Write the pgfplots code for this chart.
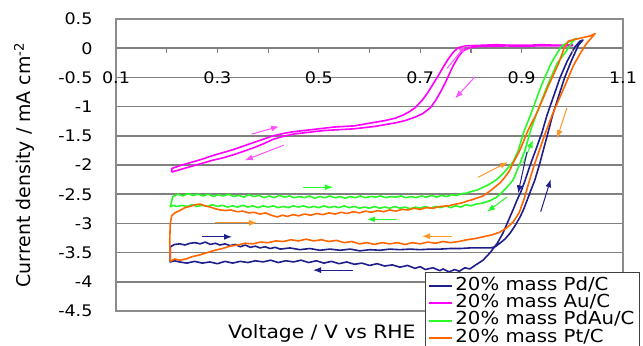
\documentclass[border=0pt]{standalone}
\usepackage{pgfplots}
\pgfplotsset{compat=1.18}
\usepackage{fontspec}
\setmainfont{DejaVu Sans}[FakeStretch=1.1]
\newfontfamily\ylabfont{DejaVu Sans}
\usetikzlibrary{arrows.meta}
\definecolor{pdc}{RGB}{30,30,140}
\definecolor{auc}{RGB}{255,0,255}
\definecolor{pdauc}{RGB}{40,250,40}
\definecolor{ptc}{RGB}{255,102,0}
\definecolor{auarr}{RGB}{255,80,255}
\definecolor{ptarr}{RGB}{255,150,40}
\definecolor{gridc}{RGB}{128,128,128}
\definecolor{framec}{RGB}{140,140,140}
\tikzset{arr/.style={-{Latex[length=8bp,width=6bp]}, line width=1bp}}
\begin{document}
\begin{tikzpicture}
\useasboundingbox (0,0) rectangle (643bp,346bp);
\clip (0,0) rectangle (643bp,346bp);
\begin{axis}[
  at={(116bp,35bp)}, anchor=south west,
  scale only axis, width=507bp, height=292bp,
  xmin=0.1, xmax=1.1, ymin=-4.5, ymax=0.5,
  axis line style={draw=framec, line width=1.4bp},
  xtick={0.1,0.3,0.5,0.7,0.9,1.1},
  ytick={-4.5,-4,-3.5,-3,-2.5,-2,-1.5,-1,-0.5,0,0.5},
  ymajorgrids,
  grid style={gridc, line width=1.6bp},
  major tick length=0pt, minor tick length=0pt,
  tick label style={font=\fontsize{16}{18}\selectfont},
  /pgf/number format/assume math mode=true,
  xticklabel style={anchor=center, yshift=233.5bp},
  yticklabel style={anchor=east, xshift=-20bp},
  xlabel={Voltage / V vs RHE},
  ylabel={Current density / mA cm\textsuperscript{-2}},
  every axis x label/.style={at={(rel axis cs:0.406,-0.0753)}, anchor=center, font=\fontsize{18.5}{22}\selectfont},
  every axis y label/.style={at={(rel axis cs:-0.1815,0.5)}, anchor=center, rotate=90, font=\ylabfont\fontsize{19}{22}\selectfont},
  legend style={at={(0.6095,0.1336)}, anchor=north west, draw=black!75, line width=0.8bp, fill=white,
    inner xsep=2.5bp, inner ysep=5bp, font=\fontsize{18}{18}\selectfont, cells={anchor=west}, row sep=0pt,
    nodes={inner xsep=2.5bp, inner ysep=0pt, text height=13bp, text depth=4.3bp}},
  legend image code/.code={\draw[#1, line width=2bp] (0bp,0bp) -- (23bp,0bp);},
  every axis plot/.append style={line width=1.6bp, line join=round},
]
% 20% mass Pd/C
\addplot[pdc] coordinates {
(0.207,-3.40)(0.216,-3.36)(0.226,-3.35)(0.236,-3.37)(0.246,-3.34)(0.256,-3.33)(0.266,-3.35)(0.276,-3.32)
(0.286,-3.36)(0.296,-3.34)(0.305,-3.37)(0.315,-3.35)(0.325,-3.38)(0.335,-3.36)(0.345,-3.40)(0.355,-3.37)
(0.365,-3.41)(0.375,-3.39)(0.384,-3.42)(0.394,-3.40)(0.404,-3.43)(0.414,-3.41)(0.424,-3.44)(0.443,-3.42)
(0.463,-3.45)(0.482,-3.43)(0.502,-3.46)(0.522,-3.44)(0.542,-3.46)(0.562,-3.44)(0.581,-3.47)(0.601,-3.45)
(0.621,-3.46)(0.640,-3.44)(0.660,-3.45)(0.680,-3.44)(0.700,-3.45)(0.720,-3.44)(0.740,-3.44)(0.759,-3.43)
(0.779,-3.43)(0.798,-3.42)(0.818,-3.42)(0.838,-3.42)(0.848,-3.40)(0.857,-3.34)(0.867,-3.27)(0.877,-3.17)
(0.887,-3.04)(0.897,-2.89)(0.904,-2.76)(0.911,-2.60)(0.918,-2.44)(0.926,-2.26)(0.935,-2.00)(0.943,-1.74)
(0.952,-1.45)(0.961,-1.15)(0.972,-0.85)(0.985,-0.50)(0.998,-0.22)(1.012,0.05)(1.021,0.14)
(1.015,0.12)(1.005,0.02)(0.990,-0.22)(0.976,-0.50)(0.962,-0.85)(0.950,-1.15)(0.940,-1.45)(0.928,-1.74)
(0.917,-2.00)(0.907,-2.26)(0.899,-2.45)(0.891,-2.60)(0.884,-2.75)(0.877,-2.89)(0.870,-3.03)(0.863,-3.17)
(0.852,-3.34)(0.838,-3.50)(0.824,-3.63)(0.808,-3.72)(0.798,-3.78)(0.788,-3.76)(0.777,-3.82)(0.768,-3.79)
(0.757,-3.83)(0.745,-3.78)(0.739,-3.81)(0.725,-3.76)(0.710,-3.79)(0.700,-3.74)(0.690,-3.77)(0.675,-3.72)
(0.660,-3.75)(0.645,-3.71)(0.630,-3.73)(0.615,-3.69)(0.600,-3.72)(0.585,-3.68)(0.570,-3.70)(0.555,-3.66)
(0.540,-3.69)(0.525,-3.65)(0.510,-3.68)(0.495,-3.64)(0.480,-3.67)(0.465,-3.63)(0.450,-3.66)(0.435,-3.64)
(0.420,-3.67)(0.405,-3.63)(0.390,-3.66)(0.375,-3.64)(0.360,-3.67)(0.345,-3.65)(0.330,-3.68)(0.315,-3.65)
(0.300,-3.69)(0.285,-3.66)(0.270,-3.68)(0.255,-3.65)(0.240,-3.68)(0.225,-3.66)(0.215,-3.64)(0.207,-3.66)
(0.207,-3.40)
};
\addlegendentry{20\% mass Pd/C}
% 20% mass Au/C
\addplot[auc] coordinates {
(0.210,-2.12)(0.210,-2.06)(0.230,-2.00)(0.250,-1.95)(0.270,-1.90)(0.290,-1.84)(0.310,-1.79)(0.330,-1.74)
(0.350,-1.68)(0.370,-1.62)(0.390,-1.56)(0.410,-1.50)(0.430,-1.46)(0.450,-1.43)(0.470,-1.41)(0.490,-1.39)
(0.510,-1.37)(0.530,-1.35)(0.550,-1.34)(0.570,-1.33)(0.590,-1.30)(0.610,-1.27)(0.630,-1.24)(0.650,-1.20)
(0.665,-1.15)(0.678,-1.09)(0.690,-1.02)(0.705,-0.88)(0.715,-0.76)(0.725,-0.62)(0.735,-0.48)(0.745,-0.33)
(0.755,-0.19)(0.765,-0.07)(0.775,0.01)(0.790,0.04)(0.820,0.05)(0.850,0.06)(0.880,0.05)(0.910,0.05)
(0.940,0.06)(0.970,0.05)(1.000,0.06)
(1.000,0.04)(0.960,0.04)(0.930,0.04)(0.900,0.03)(0.870,0.04)(0.840,0.03)(0.815,0.03)(0.800,0.01)
(0.785,-0.04)(0.775,-0.15)(0.765,-0.30)(0.757,-0.45)(0.749,-0.60)(0.740,-0.75)(0.730,-0.90)(0.720,-1.02)
(0.705,-1.12)(0.690,-1.18)(0.670,-1.24)(0.650,-1.28)(0.630,-1.31)(0.610,-1.34)(0.590,-1.36)(0.570,-1.38)
(0.550,-1.39)(0.530,-1.40)(0.510,-1.41)(0.490,-1.43)(0.470,-1.45)(0.450,-1.47)(0.430,-1.51)(0.410,-1.56)
(0.390,-1.64)(0.370,-1.71)(0.350,-1.77)(0.330,-1.83)(0.310,-1.88)(0.290,-1.92)(0.270,-1.97)(0.250,-2.02)
(0.230,-2.07)(0.210,-2.12)
};
\addlegendentry{20\% mass Au/C}
% 20% mass PdAu/C
\addplot[pdauc] coordinates {
(0.207,-2.72)(0.212,-2.54)(0.222,-2.50)(0.232,-2.53)(0.242,-2.49)(0.252,-2.52)(0.262,-2.50)(0.272,-2.53)
(0.282,-2.50)(0.292,-2.54)(0.302,-2.51)(0.312,-2.53)(0.322,-2.50)(0.332,-2.54)(0.342,-2.52)(0.352,-2.55)
(0.362,-2.51)(0.372,-2.54)(0.382,-2.52)(0.392,-2.56)(0.402,-2.53)(0.412,-2.56)(0.422,-2.52)(0.432,-2.55)
(0.442,-2.53)(0.452,-2.56)(0.462,-2.54)(0.472,-2.56)(0.482,-2.53)(0.492,-2.57)(0.502,-2.54)(0.512,-2.56)
(0.522,-2.53)(0.532,-2.56)(0.542,-2.54)(0.552,-2.57)(0.562,-2.54)(0.572,-2.56)(0.582,-2.53)(0.592,-2.56)
(0.602,-2.54)(0.612,-2.55)(0.622,-2.53)(0.632,-2.56)(0.642,-2.54)(0.652,-2.55)(0.662,-2.53)(0.672,-2.56)
(0.682,-2.54)(0.692,-2.56)(0.702,-2.53)(0.712,-2.55)(0.722,-2.52)(0.732,-2.55)(0.742,-2.52)(0.752,-2.54)
(0.762,-2.51)(0.772,-2.52)(0.782,-2.49)(0.792,-2.48)(0.802,-2.45)(0.812,-2.43)(0.822,-2.39)(0.832,-2.35)
(0.842,-2.30)(0.852,-2.24)(0.862,-2.16)(0.872,-2.06)(0.883,-1.95)(0.893,-1.76)(0.905,-1.42)(0.919,-1.11)
(0.938,-0.66)(0.958,-0.26)(0.978,0.03)(0.995,0.12)(1.009,0.17)
(1.001,0.12)(0.984,-0.10)(0.970,-0.26)(0.950,-0.66)(0.930,-1.11)(0.918,-1.40)(0.907,-1.74)(0.897,-1.97)
(0.883,-2.26)(0.867,-2.42)(0.851,-2.55)(0.838,-2.61)(0.824,-2.65)(0.810,-2.67)(0.800,-2.70)(0.790,-2.68)
(0.780,-2.72)(0.770,-2.70)(0.760,-2.73)(0.750,-2.70)(0.740,-2.73)(0.730,-2.71)(0.720,-2.74)(0.710,-2.71)
(0.700,-2.74)(0.690,-2.72)(0.680,-2.75)(0.670,-2.72)(0.660,-2.74)(0.650,-2.71)(0.640,-2.74)(0.630,-2.72)
(0.620,-2.74)(0.610,-2.71)(0.600,-2.74)(0.590,-2.72)(0.580,-2.74)(0.570,-2.71)(0.560,-2.73)(0.550,-2.70)
(0.540,-2.73)(0.530,-2.71)(0.520,-2.73)(0.510,-2.70)(0.500,-2.73)(0.490,-2.71)(0.480,-2.73)(0.470,-2.70)
(0.460,-2.72)(0.450,-2.70)(0.440,-2.73)(0.430,-2.71)(0.420,-2.73)(0.410,-2.70)(0.400,-2.72)(0.390,-2.70)
(0.380,-2.73)(0.370,-2.70)(0.360,-2.72)(0.350,-2.69)(0.340,-2.72)(0.330,-2.70)(0.320,-2.72)(0.310,-2.69)
(0.300,-2.71)(0.290,-2.68)(0.280,-2.71)(0.270,-2.69)(0.260,-2.71)(0.250,-2.68)(0.240,-2.71)(0.230,-2.69)
(0.220,-2.71)(0.212,-2.69)(0.207,-2.72)
};
\addlegendentry{20\% mass PdAu/C}
% 20% mass Pt/C
\addplot[ptc] coordinates {
(0.207,-3.65)(0.206,-3.30)(0.207,-3.00)(0.210,-2.87)(0.216,-2.82)(0.226,-2.78)(0.236,-2.73)(0.246,-2.71)
(0.256,-2.68)(0.266,-2.67)(0.276,-2.70)(0.286,-2.72)(0.296,-2.75)(0.306,-2.77)(0.316,-2.78)(0.326,-2.77)
(0.339,-2.80)(0.350,-2.79)(0.362,-2.82)(0.372,-2.81)(0.384,-2.84)(0.395,-2.82)(0.406,-2.86)(0.418,-2.89)
(0.428,-2.86)(0.438,-2.88)(0.449,-2.85)(0.460,-2.87)(0.472,-2.84)(0.484,-2.86)(0.496,-2.83)(0.508,-2.85)
(0.520,-2.82)(0.532,-2.84)(0.544,-2.81)(0.556,-2.83)(0.568,-2.80)(0.580,-2.82)(0.592,-2.79)(0.604,-2.81)
(0.616,-2.78)(0.628,-2.80)(0.640,-2.77)(0.652,-2.79)(0.664,-2.76)(0.676,-2.77)(0.688,-2.74)(0.700,-2.76)
(0.712,-2.73)(0.725,-2.74)(0.740,-2.71)(0.755,-2.70)(0.770,-2.67)(0.782,-2.65)(0.792,-2.62)(0.804,-2.59)
(0.814,-2.56)(0.824,-2.53)(0.837,-2.45)(0.847,-2.38)(0.857,-2.31)(0.866,-2.22)(0.876,-2.10)(0.883,-1.97)
(0.897,-1.74)(0.913,-1.40)(0.930,-1.11)(0.952,-0.66)(0.973,-0.26)(0.984,0.00)(0.992,0.12)
(1.005,0.15)(1.020,0.18)(1.035,0.21)(1.045,0.25)
(1.038,0.18)(1.028,0.08)(1.015,-0.10)(1.002,-0.30)(0.990,-0.55)(0.975,-0.85)(0.960,-1.15)(0.947,-1.45)
(0.935,-1.75)(0.925,-2.00)(0.915,-2.28)(0.905,-2.58)(0.895,-2.82)(0.883,-2.98)(0.870,-3.08)(0.857,-3.15)
(0.840,-3.20)(0.824,-3.23)(0.808,-3.26)(0.792,-3.28)(0.776,-3.31)(0.760,-3.33)(0.745,-3.31)(0.730,-3.34)
(0.715,-3.32)(0.700,-3.35)(0.685,-3.33)(0.670,-3.36)(0.655,-3.33)(0.640,-3.35)(0.625,-3.33)(0.610,-3.36)
(0.595,-3.33)(0.580,-3.35)(0.565,-3.31)(0.550,-3.33)(0.535,-3.29)(0.520,-3.31)(0.505,-3.28)(0.490,-3.30)
(0.475,-3.27)(0.460,-3.30)(0.445,-3.28)(0.430,-3.31)(0.415,-3.30)(0.400,-3.33)(0.385,-3.32)(0.370,-3.35)
(0.355,-3.34)(0.340,-3.37)(0.325,-3.39)(0.310,-3.43)(0.295,-3.46)(0.280,-3.50)(0.265,-3.54)(0.250,-3.57)
(0.238,-3.61)(0.226,-3.63)(0.216,-3.61)(0.207,-3.65)
};
\addlegendentry{20\% mass Pt/C}
% tick marks on the zero line
\draw[gridc, line width=1.2bp] (axis cs:0.2,0) -- ([yshift=-5bp]axis cs:0.2,0);
\draw[gridc, line width=1.2bp] (axis cs:0.3,0) -- ([yshift=-5bp]axis cs:0.3,0);
\draw[gridc, line width=1.2bp] (axis cs:0.4,0) -- ([yshift=-5bp]axis cs:0.4,0);
\draw[gridc, line width=1.2bp] (axis cs:0.5,0) -- ([yshift=-5bp]axis cs:0.5,0);
\draw[gridc, line width=1.2bp] (axis cs:0.6,0) -- ([yshift=-5bp]axis cs:0.6,0);
\draw[gridc, line width=1.2bp] (axis cs:0.7,0) -- ([yshift=-5bp]axis cs:0.7,0);
\draw[gridc, line width=1.2bp] (axis cs:0.8,0) -- ([yshift=-5bp]axis cs:0.8,0);
\draw[gridc, line width=1.2bp] (axis cs:0.9,0) -- ([yshift=-5bp]axis cs:0.9,0);
\draw[gridc, line width=1.2bp] (axis cs:1.0,0) -- ([yshift=-5bp]axis cs:1.0,0);
% direction arrows
\draw[arr, auarr] (axis cs:0.368,-1.47) -- (axis cs:0.4215,-1.34);
\draw[arr, auarr] (axis cs:0.431,-1.66) -- (axis cs:0.354,-1.92);
\draw[arr, auarr] (axis cs:0.753,-0.345) -- (axis cs:0.790,0.055);
\draw[arr, auarr] (axis cs:0.808,-0.49) -- (axis cs:0.769,-0.86);
\draw[arr, pdauc] (axis cs:0.469,-2.38) -- (axis cs:0.528,-2.38);
\draw[arr, pdauc] (axis cs:0.654,-2.93) -- (axis cs:0.595,-2.93);
\draw[arr, pdauc] (axis cs:0.9028,-1.97) -- (axis cs:0.9225,-1.57);
\draw[arr, pdauc] (axis cs:0.871,-2.55) -- (axis cs:0.832,-2.80);
\draw[arr, ptarr] (axis cs:0.295,-2.99) -- (axis cs:0.378,-2.99);
\draw[arr, ptarr] (axis cs:0.763,-3.22) -- (axis cs:0.7036,-3.22);
\draw[arr, ptarr] (axis cs:0.814,-2.21) -- (axis cs:0.873,-1.95);
\draw[arr, ptarr] (axis cs:0.9895,-1.02) -- (axis cs:0.970,-1.54);
\draw[arr, pdc] (axis cs:0.2697,-3.23) -- (axis cs:0.3288,-3.23);
\draw[arr, pdc] (axis cs:0.5675,-3.80) -- (axis cs:0.4886,-3.80);
\draw[arr, pdc] (axis cs:0.9107,-1.775) -- (axis cs:0.893,-2.485);
\draw[arr, pdc] (axis cs:0.9377,-2.80) -- (axis cs:0.9574,-2.245);
\end{axis}
\end{tikzpicture}
\end{document}
